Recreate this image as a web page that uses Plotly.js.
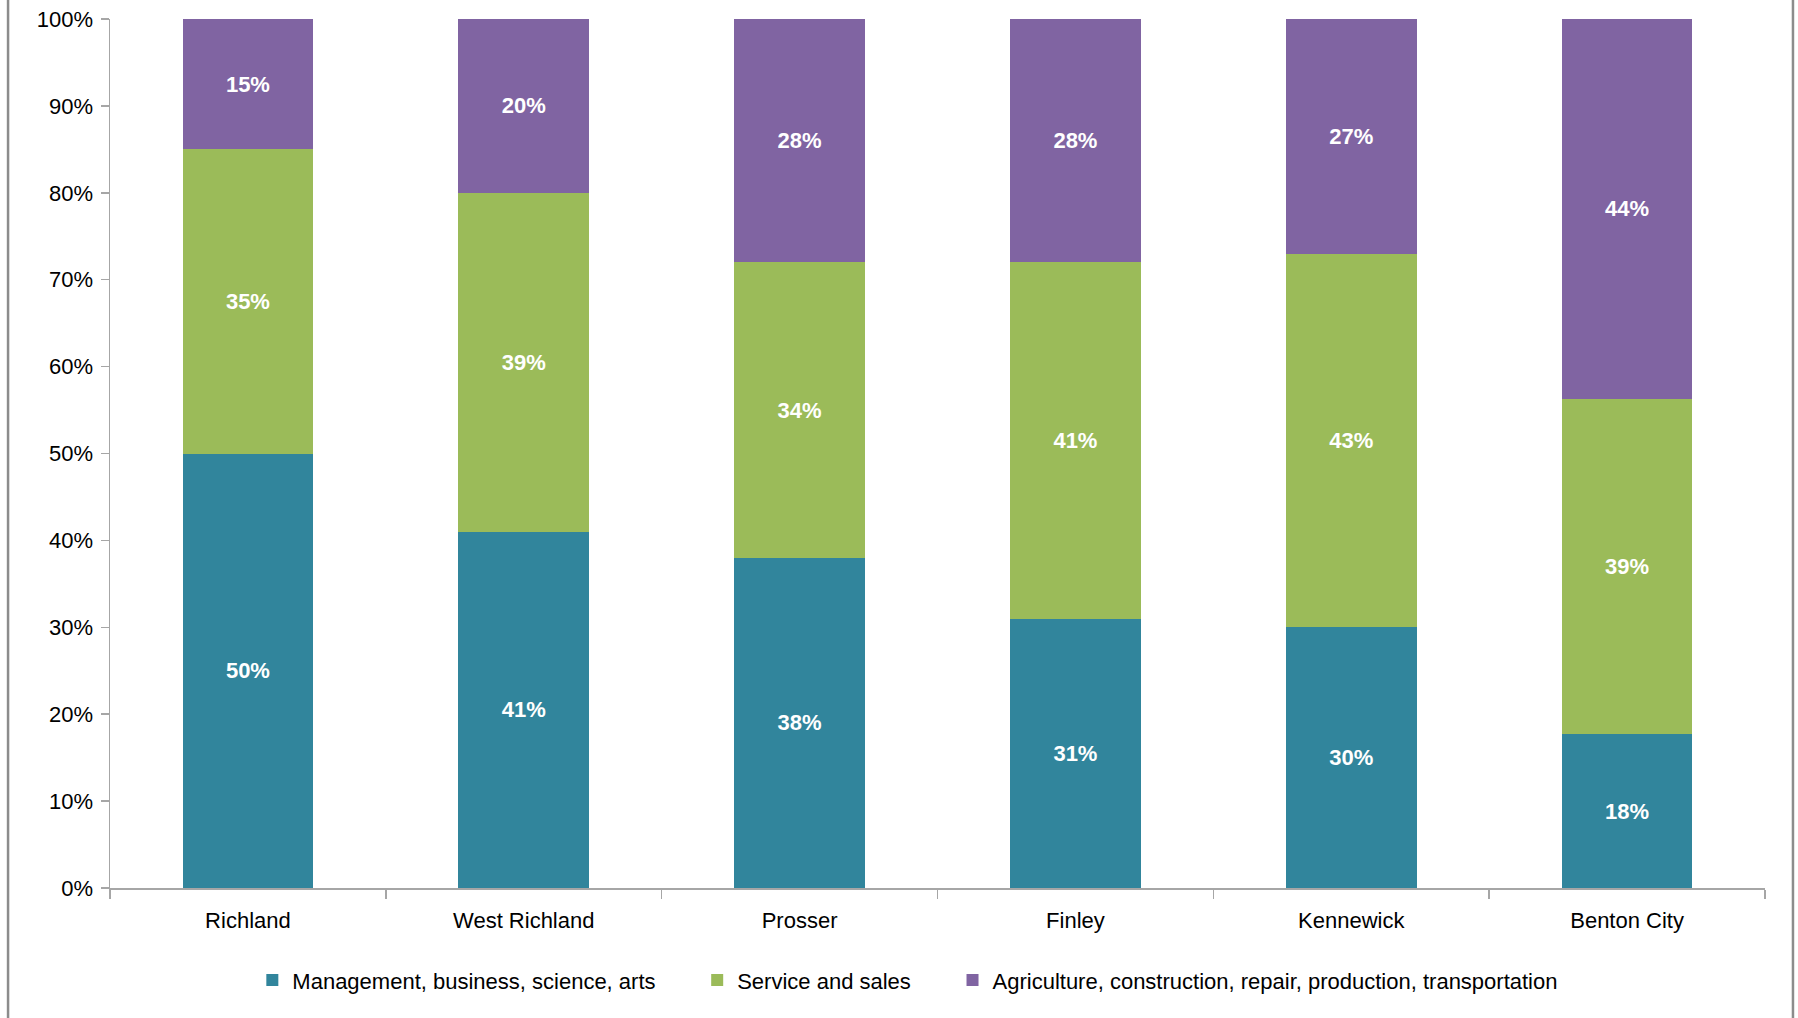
<!DOCTYPE html>
<html>
<head>
<meta charset="utf-8">
<script src="https://cdn.plot.ly/plotly-3.0.1.min.js"></script>
<style>
  html, body { margin: 0; padding: 0; background: #ffffff; }
  #chart { width: 1798px; height: 1018px; }
</style>
</head>
<body>
<div id="chart"></div>
<script>
const categories = ["Richland", "West Richland", "Prosser", "Finley", "Kennewick", "Benton City"];
const management = [50, 41, 38, 31, 30, 17.7];
const service = [35, 39, 34, 41, 43, 38.6];
const agriculture = [15, 20, 28, 28, 27, 43.7];
const seriesNames = [
  "Management, business, science, arts",
  "Service and sales",
  "Agriculture, construction, repair, production, transportation"
];
const yTickVals = [0, 10, 20, 30, 40, 50, 60, 70, 80, 90, 100];

const colors = ["#31859c", "#9bbb59", "#8064a2"];
const FONT = "'Liberation Sans', Arial, sans-serif";
const NB = "\u00a0";
const legendPad = [NB.repeat(6), NB.repeat(6), ""];

function mk(i, vals) {
  return {
    type: "bar",
    name: seriesNames[i] + legendPad[i],
    x: categories,
    y: vals,
    marker: { color: colors[i], line: { width: 0 } },
    texttemplate: "%{y:.0f}%",
    textposition: "inside",
    insidetextanchor: "middle",
    textangle: 0,
    constraintext: "none",
    textfont: { family: FONT, size: 22, color: "#ffffff", weight: "bold" },
    hoverinfo: "skip"
  };
}

const data = [
  mk(0, management),
  mk(1, service),
  mk(2, agriculture)
];

const layout = {
  width: 1798,
  height: 1018,
  margin: { l: 110, r: 33, t: 19, b: 130 },
  paper_bgcolor: "#ffffff",
  plot_bgcolor: "#ffffff",
  barmode: "stack",
  bargap: 0.526,
  font: { family: FONT, size: 22, color: "#000000" },
  showlegend: true,
  legend: {
    orientation: "h",
    x: 0.086,
    xanchor: "left",
    y: -0.106,
    yanchor: "middle",
    traceorder: "normal",
    font: { family: FONT, size: 22, color: "#000000" },
    bgcolor: "rgba(0,0,0,0)"
  },
  xaxis: {
    type: "category",
    showgrid: false,
    showline: true,
    linecolor: "#a6a6a6",
    linewidth: 1.5,
    ticks: "outside",
    tickson: "boundaries",
    ticklen: 9,
    tickcolor: "#a6a6a6",
    tickwidth: 1.5,
    ticklabelstandoff: 12,
    tickfont: { family: FONT, size: 22, color: "#000000" },
    zeroline: false
  },
  yaxis: {
    range: [0, 100],
    tickvals: yTickVals,
    ticktext: yTickVals.map(v => v + "%"),
    showgrid: false,
    showline: true,
    linecolor: "#a6a6a6",
    linewidth: 1.5,
    ticks: "outside",
    ticklen: 8,
    tickcolor: "#a6a6a6",
    tickwidth: 1.5,
    ticklabelstandoff: 3,
    tickfont: { family: FONT, size: 22, color: "#000000" },
    zeroline: false,
    fixedrange: true
  },
  shapes: [
    {
      type: "rect",
      xref: "paper", yref: "paper",
      x0: -0.0616, x1: 1.0169,
      y0: -0.4, y1: 1.2,
      line: { color: "#8c8c8c", width: 2.5 },
      fillcolor: "rgba(0,0,0,0)",
      layer: "above"
    }
  ]
};

Plotly.newPlot("chart", data, layout, { staticPlot: true, displayModeBar: false });
</script>
</body>
</html>
